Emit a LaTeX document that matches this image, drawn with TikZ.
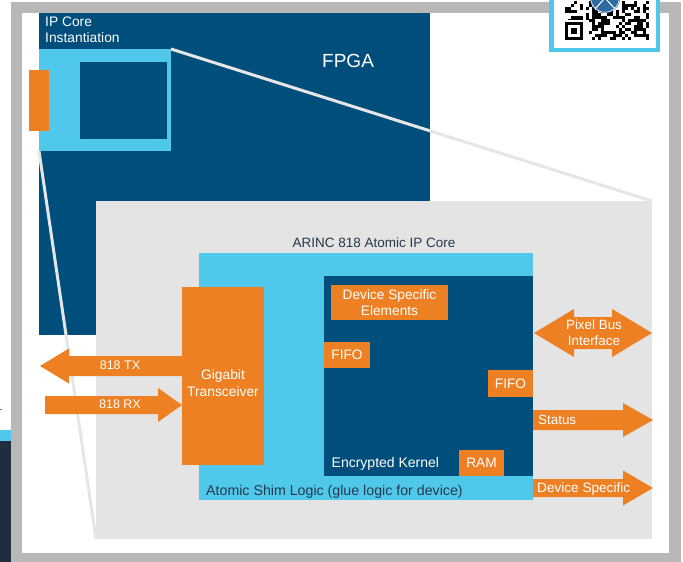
\documentclass[tikz,border=0pt]{standalone}
\usepackage{fontspec}
\setmainfont{Liberation Sans}
\usetikzlibrary{calc}

\definecolor{navy}{HTML}{004E7C}
\definecolor{shimcyan}{HTML}{50C8EB}
\definecolor{orng}{HTML}{EE8024}
\definecolor{panelgray}{HTML}{E4E4E4}
\definecolor{framegray}{HTML}{B8B8B8}
\definecolor{inktext}{HTML}{25384C}
\definecolor{slate}{HTML}{1F2D3F}
\definecolor{logoblue}{HTML}{2D6AA0}
\definecolor{zoomgray}{HTML}{E6E6E6}

% rectangle node given by its corners: name, style, x1, y1, x2, y2, text
\newcommand\rectnode[7]{%
  \node[#2, anchor=north west, minimum width={#5pt-#3pt}, minimum height={#6pt-#4pt}] (#1) at (#3,#4) {#7};}

% horizontal block arrow: tail, tip, half body, half head, head length
\newcommand\blockarrow[5]{%
  \coordinate (hb) at ($(#2)!#5!(#1)$);
  \fill[orng] ($(#1)+(0,#3)$) -- ($(hb)+(0,#3)$) -- ($(hb)+(0,#4)$) -- (#2)
    -- ($(hb)+(0,-#4)$) -- ($(hb)+(0,-#3)$) -- ($(#1)+(0,-#3)$) -- cycle;}

% horizontal double-headed block arrow: left tip, right tip, half body, half head, head length
\newcommand\dblarrow[5]{%
  \coordinate (hbl) at ($(#1)!#5!(#2)$);
  \coordinate (hbr) at ($(#2)!#5!(#1)$);
  \fill[orng] (#1) -- ($(hbl)+(0,#4)$) -- ($(hbl)+(0,#3)$) -- ($(hbr)+(0,#3)$) -- ($(hbr)+(0,#4)$)
    -- (#2) -- ($(hbr)+(0,-#4)$) -- ($(hbr)+(0,-#3)$) -- ($(hbl)+(0,-#3)$) -- ($(hbl)+(0,-#4)$) -- cycle;}

\begin{document}
\begin{tikzpicture}[x=1pt,y=-1pt,
  block/.style={inner sep=0pt, outer sep=0pt, draw=none},
  navyfill/.style={block, fill=navy},
  cyanfill/.style={block, fill=shimcyan},
  orangefill/.style={block, fill=orng, text=white, font=\fontsize{13.7}{16.5}\selectfont, align=center},
  grayfill/.style={block, fill=panelgray},
  lbl/.style={inner sep=0pt, text=white, font=\fontsize{13.8}{16.5}\selectfont},
  darklbl/.style={lbl, text=inktext},
  zoomline/.style={draw=zoomgray, line width=3pt}]

\useasboundingbox (0,0) rectangle (683,562);
\clip (0,0) rectangle (683,562);

% page frame
\fill[framegray] (11,2) rectangle (681,570);
\fill[white] (22,13) rectangle (669,553);

% neighbouring panel at the left edge
\fill[shimcyan] (0,430) rectangle (11,441);
\fill[slate] (0,441) rectangle (11,562);
\fill[slate!60] (0,408.5) rectangle (1.5,409.8);

% QR badge
\draw[shimcyan, line width=4.5pt, fill=white] (551.25,-10) rectangle (657.75,49.75);
\pgfmathsetseed{4242}
\foreach \r in {0,...,12}{%
  \foreach \c in {0,...,27}{%
    \pgfmathrandominteger{\bit}{0}{1}%
    \ifnum\bit=1
      \fill[black] (565+\c*3,0.5+\r*3) rectangle ++(3,3);
    \fi}}
\fill[white] (565,19.5) rectangle (589,39.5);
\fill[black] (565,21.5) rectangle (583,39.5);
\fill[white] (568,24.5) rectangle (580,36.5);
\fill[black] (571,27.5) rectangle (577,33.5);
\fill[logoblue] (605,-2) circle (15);
\draw[white!80!logoblue, line width=0.8pt] (605,-2) circle (14.2);
\draw[white, line width=1pt] (595,9) .. controls (600,4) .. (605,-2) .. controls (610,4) .. (615,9);
\draw[white, line width=1pt] (605,-2) -- (605,-16);

% FPGA with the instantiated core
\rectnode{fpga}{navyfill}{39}{13}{430}{335}{}
\node[lbl, anchor=base west, font=\fontsize{19}{21}\selectfont] (fpgalabel) at (322,67) {FPGA};
\rectnode{ipinst}{cyanfill}{39}{49}{171}{151}{}
\rectnode{ipcore}{navyfill}{80}{62}{167}{139}{}
\rectnode{ioport}{orangefill}{29}{70}{49}{131}{}
\node[lbl, anchor=north west, align=left] (iplabel) at (45,16.5) {IP Core\\Instantiation};

% enlarged view
\draw[zoomline] (ipinst.north east) -- (652,201) coordinate (corene);
\draw[zoomline] (ipinst.south west) -- (96,539) coordinate (coresw);
\rectnode{core}{grayfill}{96}{201}{652}{539}{}
\node[darklbl, anchor=base, font=\fontsize{13.5}{16.5}\selectfont] (corelabel) at (374,247) {ARINC 818 Atomic IP Core};

\rectnode{shim}{cyanfill}{199}{253}{533}{500}{}
\rectnode{kernel}{navyfill}{324}{276}{533}{476}{}
\rectnode{gt}{orangefill}{182}{287}{264}{465}{}
\node[lbl, align=center] (gtlabel) at (223,383) {Gigabit\\Transceiver};
\rectnode{dse}{orangefill}{331}{285}{448}{320}{Device Specific\\Elements}
\rectnode{fifoa}{orangefill}{324}{342}{370}{368}{FIFO}
\rectnode{fifob}{orangefill}{488}{370}{533}{397}{FIFO}
\rectnode{ram}{orangefill}{459}{450}{504}{476}{RAM}
\node[lbl, anchor=base west, font=\fontsize{14}{16.5}\selectfont] (kernellabel) at (331.5,467.7) {Encrypted Kernel};
\node[darklbl, anchor=base west, font=\fontsize{14.2}{16.5}\selectfont] (shimlabel) at (206,495.3) {Atomic Shim Logic (glue logic for device)};

% interface arrows
\coordinate (txtip) at (40,366);
\coordinate (txtail) at ($(gt.north west)+(0,79)$);
\coordinate (rxtail) at (45,405);
\coordinate (rxtip) at ($(gt.north west)+(0,118)$);
\coordinate (pbl) at ($(kernel.north east)+(1,57)$);
\coordinate (pbr) at (652,333);
\coordinate (sttail) at ($(kernel.north east)+(0,144)$);
\coordinate (sttip) at (653,420);
\coordinate (dstail) at ($(shim.south east)+(0,-12)$);
\coordinate (dstip) at (653,488);

\blockarrow{txtail}{txtip}{10}{17.5}{29pt}
\blockarrow{rxtail}{rxtip}{9}{17}{24pt}
\dblarrow{pbl}{pbr}{16}{24}{40pt}
\blockarrow{sttail}{sttip}{10}{17}{30pt}
\blockarrow{dstail}{dstip}{9}{17.5}{30pt}

\node[lbl, anchor=base, font=\fontsize{12.5}{15}\selectfont] (txlabel) at (120,369.3) {818 TX};
\node[lbl, anchor=base, font=\fontsize{12.5}{15}\selectfont] (rxlabel) at (120,408.3) {818 RX};
\node[lbl, align=center, font=\fontsize{13.4}{16.5}\selectfont] (pblabel) at (594,332.5) {Pixel Bus\\Interface};
\node[lbl, anchor=base west, font=\fontsize{13.4}{16.5}\selectfont] (stlabel) at (538,424.3) {Status};
\node[lbl, anchor=base west, font=\fontsize{13.6}{16.5}\selectfont] (dslabel) at (537,492.3) {Device Specific};
\end{tikzpicture}
\end{document}
